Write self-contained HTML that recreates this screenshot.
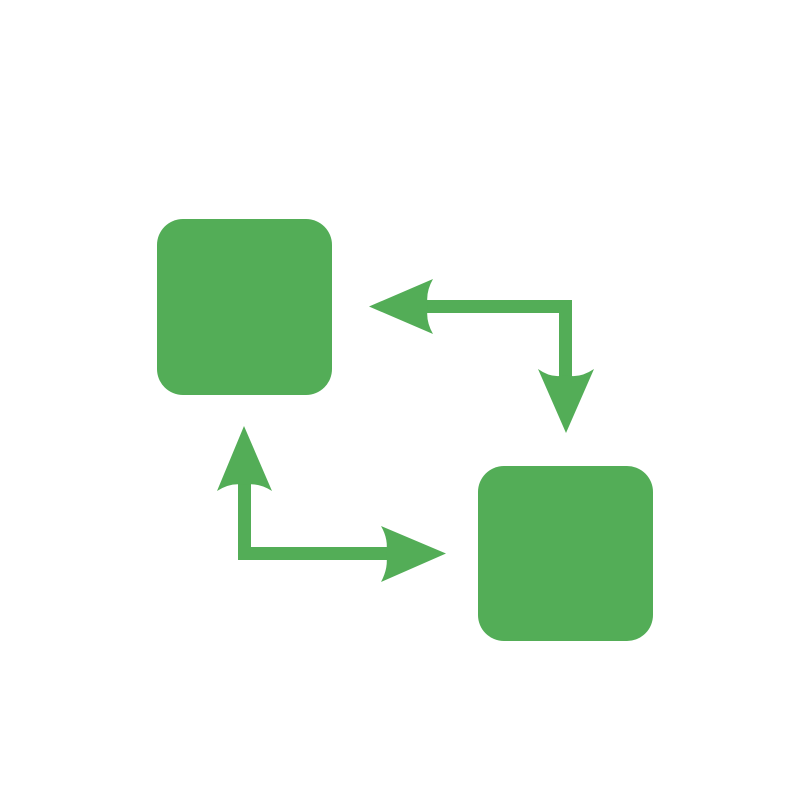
<!DOCTYPE html>
<html><head><style>body{margin:0;background:#fff}</style></head><body>
<svg width="800" height="800" viewBox="0 0 800 800">
<g fill="#53ad57">
<rect x="157" y="219" width="175" height="176" rx="26"/>
<rect x="478" y="466" width="175" height="175" rx="26"/>
<path d="M420,300 H572 V390 H559 V313 H420 Z"/>
<path d="M369,306.5 L433,279 Q425,293 428,306.5 Q425,320 433,334 Z"/>
<path d="M566,433 L538,369 Q552,379 565.5,375 Q579,379 594,369 Z"/>
<path d="M238,475 V560 H395 V547 H251 V475 Z"/>
<path d="M244,426 L217,491 Q231,482 244.5,485 Q258,482 272,491 Z"/>
<path d="M446,553.5 L381,526 Q389,540 386,553.5 Q389,567 381,582 Z"/>
</g>
</svg>
</body></html>
